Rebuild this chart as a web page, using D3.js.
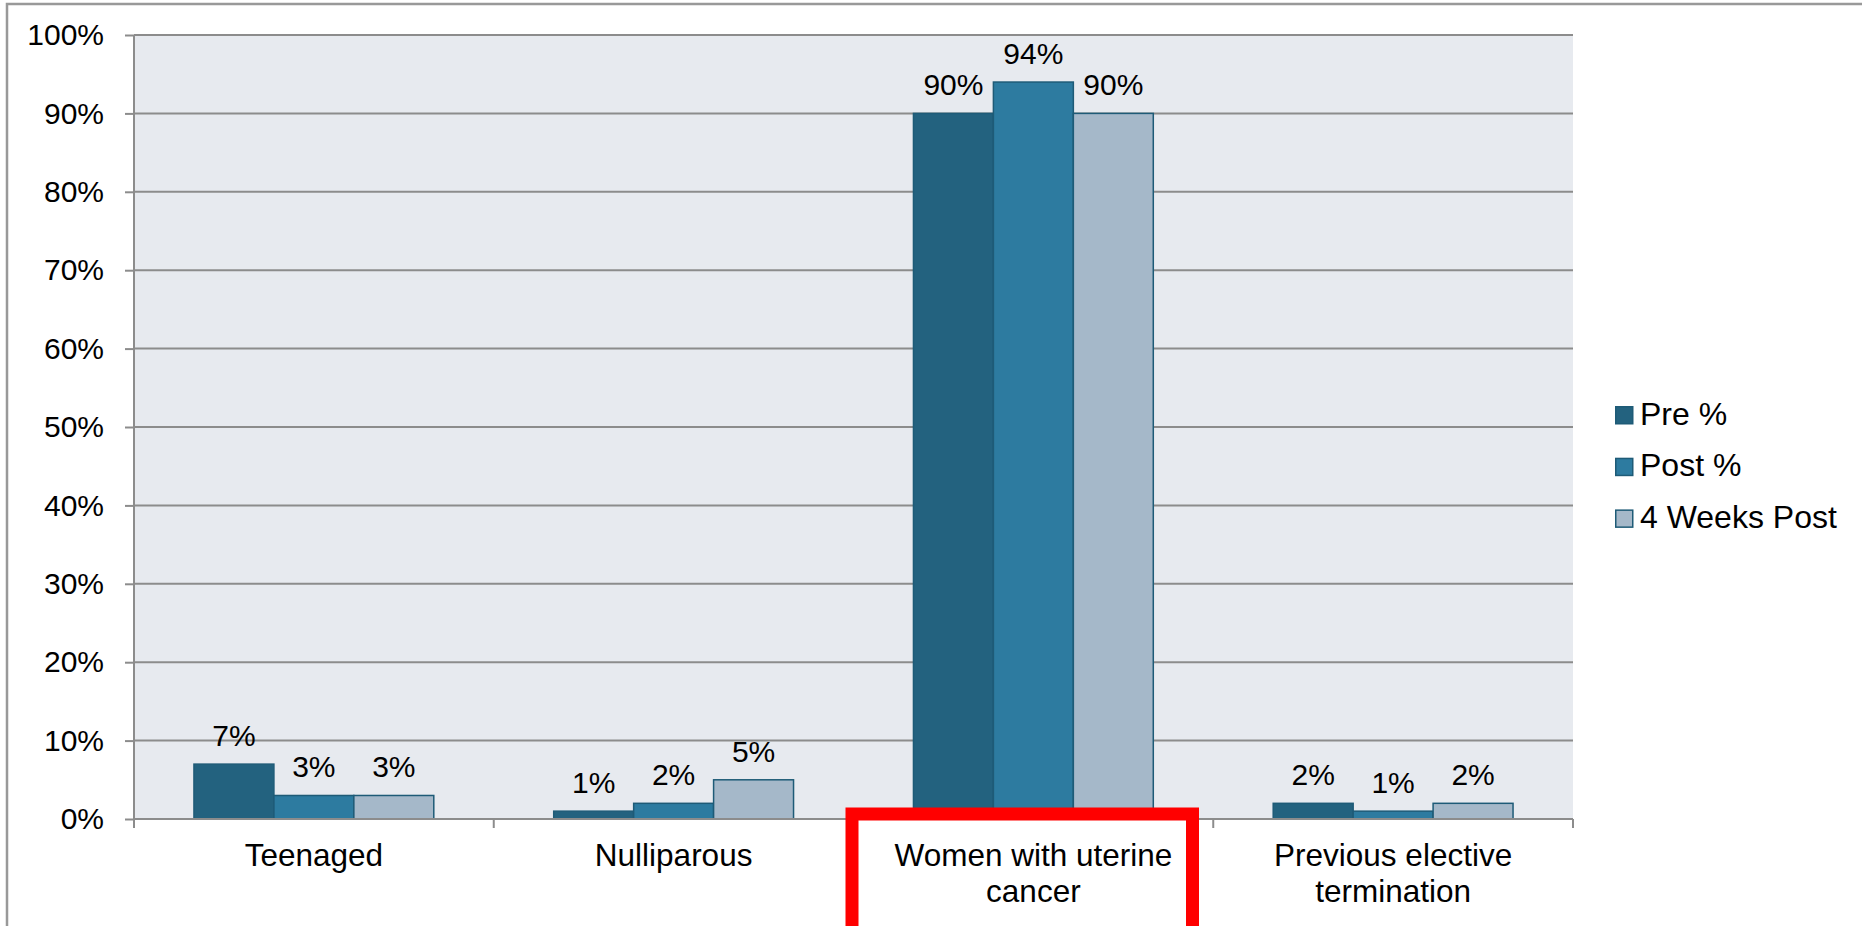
<!DOCTYPE html>
<html>
<head>
<meta charset="utf-8">
<script src="https://cdn.jsdelivr.net/npm/d3@7"></script>
<style>
  html, body { margin: 0; padding: 0; background: #fff; }
  svg { display: block; font-family: "Liberation Sans", Arial, sans-serif; }
</style>
</head>
<body>
<svg id="chart" width="1862" height="926"></svg>
<script>
// Survey responses by group, three measurement points
const categories = ["Teenaged", "Nulliparous", "Women with uterine cancer", "Previous elective termination"];
const seriesNames = ["Pre %", "Post %", "4 Weeks Post"];
const prePct = [7, 1, 90, 2];
const postPct = [3, 2, 94, 1];
const weeks4Pct = [3, 5, 90, 2];
const yTicks = [0, 10, 20, 30, 40, 50, 60, 70, 80, 90, 100];
const highlightCategory = "Women with uterine cancer";

const seriesValues = [prePct, postPct, weeks4Pct];
const colors = ["#23627f", "#2d7ba0", "#a5b8c9"];
const barStroke = "#1e5b77";
const gridColor = "#8c8c8c";
const axisFont = 30, valueFont = 30, catFont = 31.5, legendFont = 32;

const svg = d3.select("#chart");
const W = 1862, H = 926;
const plot = { left: 134, right: 1573, top: 35, bottom: 819 };

// outer chart frame
svg.append("rect")
  .attr("x", 7).attr("y", 4)
  .attr("width", W + 10).attr("height", H + 10)
  .attr("fill", "#fff").attr("stroke", "#999").attr("stroke-width", 2.5);

const x0 = d3.scaleBand().domain(categories).range([plot.left, plot.right]).padding(0);
const x1 = d3.scaleBand().domain(seriesNames)
  .range([0, x0.bandwidth()]).paddingOuter(0.75).paddingInner(0);
const y = d3.scaleLinear().domain([0, 100]).range([plot.bottom, plot.top]);

// plot background
svg.append("rect")
  .attr("x", plot.left).attr("y", plot.top)
  .attr("width", plot.right - plot.left).attr("height", plot.bottom - plot.top)
  .attr("fill", "#e7eaef");

// horizontal gridlines
svg.append("g").selectAll("line").data(yTicks.filter(t => t > 0)).join("line")
  .attr("x1", plot.left).attr("x2", plot.right)
  .attr("y1", d => y(d)).attr("y2", d => y(d))
  .attr("stroke", gridColor).attr("stroke-width", 2);

// y axis
const yAxis = svg.append("g")
  .attr("transform", `translate(${plot.left},0)`)
  .call(d3.axisLeft(y).tickValues(yTicks).tickFormat(d => d + "%").tickSize(9).tickPadding(21));
yAxis.select(".domain").attr("stroke", gridColor).attr("stroke-width", 2)
  .attr("d", `M0,${plot.top}V${plot.bottom + 9}`);
yAxis.selectAll(".tick line").attr("stroke", gridColor).attr("stroke-width", 2);
yAxis.selectAll(".tick text")
  .attr("font-size", axisFont).attr("fill", "#000")
  .attr("font-family", "Liberation Sans, Arial, sans-serif");

// bars
const groups = svg.append("g").selectAll("g").data(categories).join("g")
  .attr("transform", d => `translate(${x0(d)},0)`);

groups.selectAll("rect").data((c, i) => seriesNames.map((s, k) => ({ s, k, v: seriesValues[k][i] })))
  .join("rect")
  .attr("x", d => x1(d.s))
  .attr("y", d => y(d.v))
  .attr("width", x1.bandwidth())
  .attr("height", d => y(0) - y(d.v))
  .attr("fill", d => colors[d.k])
  .attr("stroke", barStroke).attr("stroke-width", 1.5);

// x axis line and category separators
svg.append("line")
  .attr("x1", plot.left).attr("x2", plot.right)
  .attr("y1", plot.bottom).attr("y2", plot.bottom)
  .attr("stroke", gridColor).attr("stroke-width", 2);
const sepX = categories.map(c => x0(c)).concat([plot.right]);
svg.append("g").selectAll("line").data(sepX).join("line")
  .attr("x1", d => d).attr("x2", d => d)
  .attr("y1", plot.bottom).attr("y2", plot.bottom + 9)
  .attr("stroke", gridColor).attr("stroke-width", 2);

// value labels
groups.selectAll("text.val").data((c, i) => seriesNames.map((s, k) => ({ s, k, v: seriesValues[k][i] })))
  .join("text").attr("class", "val")
  .attr("x", d => x1(d.s) + x1.bandwidth() / 2)
  .attr("y", d => y(d.v) - 18)
  .attr("text-anchor", "middle")
  .attr("font-size", valueFont).attr("fill", "#000")
  .text(d => d.v + "%");

// category labels, wrapped to the band width
const catLabels = svg.append("g").selectAll("text").data(categories).join("text")
  .attr("x", d => x0(d) + x0.bandwidth() / 2)
  .attr("y", 866)
  .attr("text-anchor", "middle")
  .attr("font-size", catFont).attr("fill", "#000");

catLabels.each(function (d) {
  const t = d3.select(this);
  const words = d.split(" ");
  const maxW = x0.bandwidth() * 0.9;
  let line = [];
  let tspan = t.append("tspan").attr("x", t.attr("x")).attr("dy", 0);
  words.forEach(w => {
    line.push(w);
    tspan.text(line.join(" "));
    if (tspan.node().getComputedTextLength() > maxW && line.length > 1) {
      line.pop();
      tspan.text(line.join(" "));
      line = [w];
      tspan = t.append("tspan").attr("x", t.attr("x")).attr("dy", 36).text(w);
    }
  });
});

// legend
const legend = svg.append("g").attr("transform", "translate(1615,406)");
const items = legend.selectAll("g").data(seriesNames).join("g")
  .attr("transform", (d, i) => `translate(0,${i * 51.7})`);
items.append("rect")
  .attr("x", 0.75).attr("y", 0.75).attr("width", 17).attr("height", 17)
  .attr("fill", (d, i) => colors[i]).attr("stroke", barStroke).attr("stroke-width", 1.5);
items.append("text")
  .attr("x", 25).attr("y", 18.5)
  .attr("font-size", legendFont).attr("fill", "#000")
  .text(d => d);

// highlight box around one category label
const hb = x0(highlightCategory);
svg.append("rect")
  .attr("x", hb - 1.5).attr("y", 814)
  .attr("width", 340.5).attr("height", 120)
  .attr("fill", "none").attr("stroke", "#ff0000").attr("stroke-width", 13);
</script>
</body>
</html>
